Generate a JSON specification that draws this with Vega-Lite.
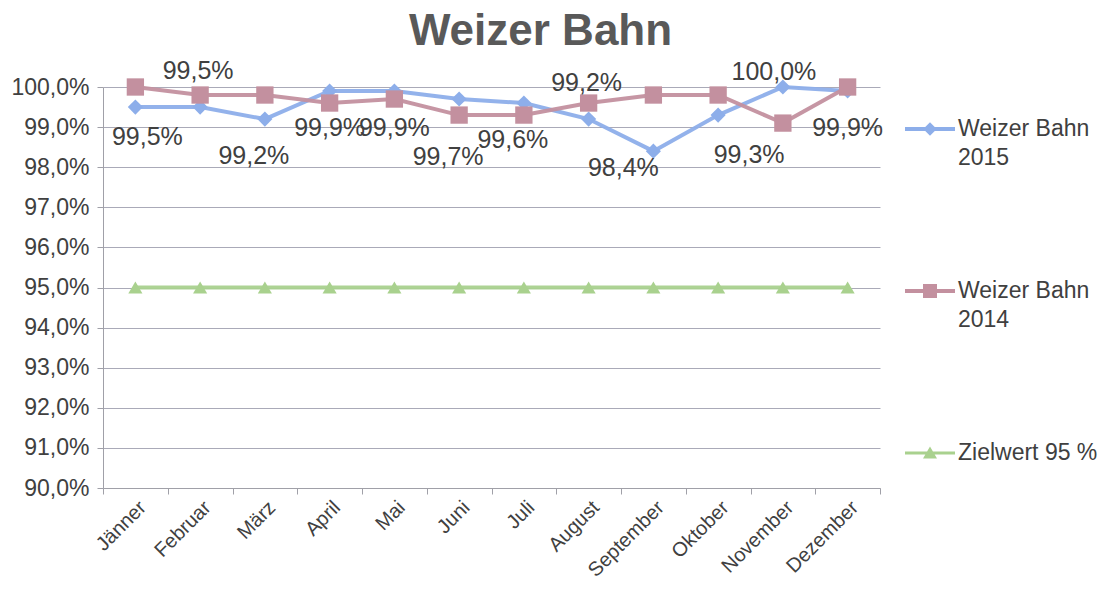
{
  "$schema": "https://vega.github.io/schema/vega-lite/v6.json",
  "autosize": {"type": "none"},
  "width": 777,
  "height": 401,
  "padding": {"left": 103, "top": 87, "right": 223, "bottom": 108},
  "background": "white",
  "title": {"text": "Weizer Bahn", "fontSize": 44, "fontWeight": "bold", "color": "#595959", "font": "Liberation Sans", "anchor": "middle", "frame": "group", "dx": 49, "offset": 5},
  "data": {"values": [
    {"month": "Jänner", "series": "Weizer Bahn 2015", "value": 0.995},
    {"month": "Februar", "series": "Weizer Bahn 2015", "value": 0.995},
    {"month": "März", "series": "Weizer Bahn 2015", "value": 0.992},
    {"month": "April", "series": "Weizer Bahn 2015", "value": 0.999},
    {"month": "Mai", "series": "Weizer Bahn 2015", "value": 0.999},
    {"month": "Juni", "series": "Weizer Bahn 2015", "value": 0.997},
    {"month": "Juli", "series": "Weizer Bahn 2015", "value": 0.996},
    {"month": "August", "series": "Weizer Bahn 2015", "value": 0.992},
    {"month": "September", "series": "Weizer Bahn 2015", "value": 0.984},
    {"month": "Oktober", "series": "Weizer Bahn 2015", "value": 0.993},
    {"month": "November", "series": "Weizer Bahn 2015", "value": 1.0},
    {"month": "Dezember", "series": "Weizer Bahn 2015", "value": 0.999},
    {"month": "Jänner", "series": "Weizer Bahn 2014", "value": 1.0},
    {"month": "Februar", "series": "Weizer Bahn 2014", "value": 0.998},
    {"month": "März", "series": "Weizer Bahn 2014", "value": 0.998},
    {"month": "April", "series": "Weizer Bahn 2014", "value": 0.996},
    {"month": "Mai", "series": "Weizer Bahn 2014", "value": 0.997},
    {"month": "Juni", "series": "Weizer Bahn 2014", "value": 0.993},
    {"month": "Juli", "series": "Weizer Bahn 2014", "value": 0.993},
    {"month": "August", "series": "Weizer Bahn 2014", "value": 0.996},
    {"month": "September", "series": "Weizer Bahn 2014", "value": 0.998},
    {"month": "Oktober", "series": "Weizer Bahn 2014", "value": 0.998},
    {"month": "November", "series": "Weizer Bahn 2014", "value": 0.991},
    {"month": "Dezember", "series": "Weizer Bahn 2014", "value": 1.0},
    {"month": "Jänner", "series": "Zielwert 95 %", "value": 0.95},
    {"month": "Februar", "series": "Zielwert 95 %", "value": 0.95},
    {"month": "März", "series": "Zielwert 95 %", "value": 0.95},
    {"month": "April", "series": "Zielwert 95 %", "value": 0.95},
    {"month": "Mai", "series": "Zielwert 95 %", "value": 0.95},
    {"month": "Juni", "series": "Zielwert 95 %", "value": 0.95},
    {"month": "Juli", "series": "Zielwert 95 %", "value": 0.95},
    {"month": "August", "series": "Zielwert 95 %", "value": 0.95},
    {"month": "September", "series": "Zielwert 95 %", "value": 0.95},
    {"month": "Oktober", "series": "Zielwert 95 %", "value": 0.95},
    {"month": "November", "series": "Zielwert 95 %", "value": 0.95},
    {"month": "Dezember", "series": "Zielwert 95 %", "value": 0.95}
  ]},
  "encoding": {
    "x": {"field": "month", "type": "nominal", "sort": ["Jänner","Februar","März","April","Mai","Juni","Juli","August","September","Oktober","November","Dezember"],
      "scale": {"paddingInner": 0, "paddingOuter": 0},
      "axis": {"title": null, "labelAngle": -45, "labelFontSize": 20, "labelColor": "#404040", "labelFont": "Liberation Sans", "tickBand": "extent", "domainColor": "#a0a0a8", "tickColor": "#a0a0a8", "tickSize": 6, "grid": false, "labelPadding": 3}},
    "y": {"field": "value", "type": "quantitative",
      "scale": {"domain": [0.9, 1.0], "nice": false, "zero": false},
      "axis": {"title": null, "values": [0.9,0.91,0.92,0.93,0.94,0.95,0.96,0.97,0.98,0.99,1.0], "format": ".1%", "labelFontSize": 23, "labelColor": "#404040", "labelFont": "Liberation Sans", "gridColor": "#aaaab8", "gridWidth": 1, "domainColor": "#a0a0a8", "tickColor": "#a0a0a8", "tickSize": 6, "labelPadding": 8}},
    "color": {"field": "series", "type": "nominal",
      "scale": {"domain": ["Weizer Bahn 2015","Weizer Bahn 2014","Zielwert 95 %"], "range": ["#8daeea","#c3909f","#a9d18e"]},
      "legend": {"title": null, "orient": "none", "legendX": 802, "legendY": 17, "padding": 0, "labelFontSize": 23, "labelColor": "#404040", "labelFont": "Liberation Sans", "labelLimit": 220, "rowPadding": 96, "symbolSize": 2500, "labelOffset": 3, "symbolStrokeWidth": 0, "symbolOpacity": 1,
        "labelExpr": "datum.label === 'Zielwert 95 %' ? datum.label : [slice(datum.label, 0, 11), slice(datum.label, 12)]"}}
  },
  "layer": [
    {"mark": {"type": "line", "strokeWidth": 4, "opacity": 0.95}},
    {"transform": [{"filter": "false"}],
     "mark": {"type": "point", "filled": true, "opacity": 1, "strokeWidth": 0},
     "encoding": {"shape": {"field": "series", "type": "nominal",
       "scale": {"domain": ["Weizer Bahn 2015","Weizer Bahn 2014","Zielwert 95 %"],
         "range": ["M-1,-0.08H1V0.08H-1Z M0,-0.27L0.27,0L0,0.27L-0.27,0Z", "M-1,-0.08H1V0.08H-1Z M-0.28,-0.28H0.28V0.28H-0.28Z", "M-1,-0.06H1V0.06H-1Z M0,-0.26L0.28,0.22H-0.28Z"]}}}},
    {"transform": [{"filter": {"field": "series", "equal": "Weizer Bahn 2015"}}],
     "mark": {"type": "point", "filled": true, "opacity": 1, "shape": "diamond", "size": 230}},
    {"transform": [{"filter": {"field": "series", "equal": "Weizer Bahn 2014"}}],
     "mark": {"type": "point", "filled": true, "opacity": 1, "shape": "square", "size": 300}},
    {"transform": [{"filter": {"field": "series", "equal": "Zielwert 95 %"}}],
     "mark": {"type": "point", "filled": true, "opacity": 1, "shape": "triangle-up", "size": 200}},
    {"transform": [{"filter": {"field": "series", "equal": "Weizer Bahn 2015"}}, {"filter": {"field": "month", "oneOf": ["April","Mai","Dezember"]}}],
     "mark": {"type": "text", "fontSize": 25, "font": "Liberation Sans", "dy": 37, "dx": 0},
     "encoding": {"text": {"field": "value", "type": "quantitative", "format": ".1%"}, "color": {"value": "#404040"}}},
    {"transform": [{"filter": {"field": "series", "equal": "Weizer Bahn 2015"}}, {"filter": {"field": "month", "oneOf": ["Jänner"]}}],
     "mark": {"type": "text", "fontSize": 25, "font": "Liberation Sans", "dy": 30, "dx": 12},
     "encoding": {"text": {"field": "value", "type": "quantitative", "format": ".1%"}, "color": {"value": "#404040"}}},
    {"transform": [{"filter": {"field": "series", "equal": "Weizer Bahn 2015"}}, {"filter": {"field": "month", "oneOf": ["März","Juli"]}}],
     "mark": {"type": "text", "fontSize": 25, "font": "Liberation Sans", "dy": 37, "dx": -11},
     "encoding": {"text": {"field": "value", "type": "quantitative", "format": ".1%"}, "color": {"value": "#404040"}}},
    {"transform": [{"filter": {"field": "series", "equal": "Weizer Bahn 2015"}}, {"filter": {"field": "month", "oneOf": ["Februar","August"]}}],
     "mark": {"type": "text", "fontSize": 25, "font": "Liberation Sans", "dy": -36, "dx": -2},
     "encoding": {"text": {"field": "value", "type": "quantitative", "format": ".1%"}, "color": {"value": "#404040"}}},
    {"transform": [{"filter": {"field": "series", "equal": "Weizer Bahn 2015"}}, {"filter": {"field": "month", "oneOf": ["Juni"]}}],
     "mark": {"type": "text", "fontSize": 25, "font": "Liberation Sans", "dy": 58, "dx": -11},
     "encoding": {"text": {"field": "value", "type": "quantitative", "format": ".1%"}, "color": {"value": "#404040"}}},
    {"transform": [{"filter": {"field": "series", "equal": "Weizer Bahn 2015"}}, {"filter": {"field": "month", "oneOf": ["September"]}}],
     "mark": {"type": "text", "fontSize": 25, "font": "Liberation Sans", "dy": 17, "dx": -30},
     "encoding": {"text": {"field": "value", "type": "quantitative", "format": ".1%"}, "color": {"value": "#404040"}}},
    {"transform": [{"filter": {"field": "series", "equal": "Weizer Bahn 2015"}}, {"filter": {"field": "month", "oneOf": ["Oktober"]}}],
     "mark": {"type": "text", "fontSize": 25, "font": "Liberation Sans", "dy": 40, "dx": 31},
     "encoding": {"text": {"field": "value", "type": "quantitative", "format": ".1%"}, "color": {"value": "#404040"}}},
    {"transform": [{"filter": {"field": "series", "equal": "Weizer Bahn 2015"}}, {"filter": {"field": "month", "oneOf": ["November"]}}],
     "mark": {"type": "text", "fontSize": 25, "font": "Liberation Sans", "dy": -15, "dx": -9},
     "encoding": {"text": {"field": "value", "type": "quantitative", "format": ".1%"}, "color": {"value": "#404040"}}}
  ],
  "config": {
    "view": {"stroke": null},
    "style": {"guide-label": {"lineHeight": 29}},
    "locale": {"number": {"decimal": ",", "thousands": ".", "grouping": [3], "currency": ["", " €"]}}
  }
}
